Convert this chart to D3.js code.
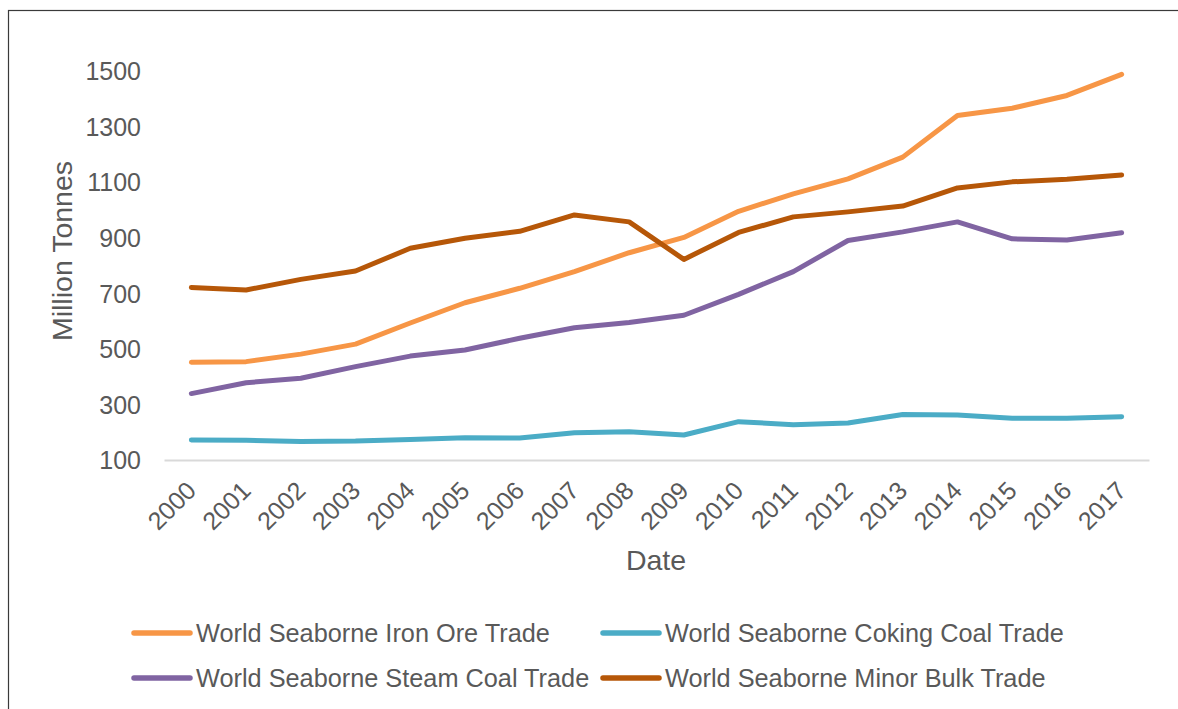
<!DOCTYPE html>
<html>
<head>
<meta charset="utf-8">
<script src="https://cdn.jsdelivr.net/npm/d3@7"></script>
<style>
  html, body { margin: 0; padding: 0; background: #fff; }
  svg { display: block; font-family: "Liberation Sans", Arial, sans-serif; }
</style>
</head>
<body>
<svg id="chart" width="1178" height="709"></svg>
<script>
// Years on the category axis
const years = ["2000","2001","2002","2003","2004","2005","2006","2007","2008",
  "2009","2010","2011","2012","2013","2014","2015","2016","2017"];

// Trade volumes, million tonnes
const ironOre    = [452, 454, 481, 517, 593, 666, 718, 778, 846, 901, 995, 1058, 1112, 1190, 1340, 1366, 1412, 1488];
const cokingCoal = [172, 171, 167, 168, 174, 180, 179, 198, 202, 190, 238, 227, 233, 264, 262, 250, 250, 256];
const steamCoal  = [339, 378, 394, 436, 474, 496, 538, 576, 595, 621, 696, 778, 890, 921, 957, 896, 892, 918];
const minorBulk  = [721, 712, 750, 780, 862, 898, 923, 982, 957, 822, 919, 975, 993, 1014, 1079, 1101, 1110, 1126];

const yTicks = [100, 300, 500, 700, 900, 1100, 1300, 1500];

const seriesNames  = ["World Seaborne Iron Ore Trade", "World Seaborne Coking Coal Trade",
                      "World Seaborne Steam Coal Trade", "World Seaborne Minor Bulk Trade"];
const seriesColors = ["#F79646", "#4BACC6", "#8064A2", "#B65708"];
const seriesValues = [ironOre, cokingCoal, steamCoal, minorBulk];

const svg = d3.select("#chart");
const textColor = "#595959";

// outer frame
svg.append("rect")
  .attr("x", 8.5).attr("y", 10.5)
  .attr("width", 1200).attr("height", 720)
  .attr("fill", "none").attr("stroke", "#3a3a3a").attr("stroke-width", 1.2);

const plot = { left: 164, right: 1149, top: 15, bottom: 460 };

const x = d3.scaleBand().domain(years).range([plot.left, plot.right]).padding(0);
const y = d3.scaleLinear().domain([100, 1700]).range([plot.bottom, plot.bottom - 1600 * (389 / 1400)]);

// y axis labels
const yAxis = svg.append("g")
  .attr("transform", `translate(${plot.left},0)`)
  .call(d3.axisLeft(y).tickValues(yTicks).tickSize(0).tickPadding(23).tickFormat(d3.format("d")));
yAxis.select(".domain").remove();
yAxis.selectAll("text")
  .attr("fill", textColor).style("font-size", "25px").attr("dy", "0.35em");

// x axis line and rotated labels
const xAxis = svg.append("g")
  .attr("transform", `translate(0,${plot.bottom})`)
  .call(d3.axisBottom(x).tickSize(0).tickPadding(0));
xAxis.select(".domain").attr("stroke", "#d9d9d9").attr("stroke-width", 2);
xAxis.selectAll("text")
  .attr("fill", textColor).style("font-size", "25px")
  .attr("text-anchor", "end")
  .attr("transform", "translate(0,26) rotate(-45)")
  .attr("dy", "0.35em").attr("y", 0);

// axis titles
svg.append("text")
  .attr("transform", "translate(72,251) rotate(-90)")
  .attr("text-anchor", "middle")
  .attr("fill", textColor).style("font-size", "28.5px")
  .text("Million Tonnes");

svg.append("text")
  .attr("x", 656).attr("y", 570)
  .attr("text-anchor", "middle")
  .attr("fill", textColor).style("font-size", "28.5px")
  .text("Date");

// series lines
const line = d3.line()
  .x((d, i) => x(years[i]) + x.bandwidth() / 2)
  .y(d => y(d));

seriesValues.forEach((vals, k) => {
  svg.append("path")
    .datum(vals)
    .attr("d", line)
    .attr("fill", "none")
    .attr("stroke", seriesColors[k])
    .attr("stroke-width", 5)
    .attr("stroke-linecap", "round")
    .attr("stroke-linejoin", "round");
});

// legend, two columns by two rows
const legendPos = [[134, 633], [603, 633], [134, 678], [603, 678]];
seriesNames.forEach((name, k) => {
  const [lx, ly] = legendPos[k];
  const g = svg.append("g").attr("transform", `translate(${lx},${ly})`);
  g.append("line")
    .attr("x1", 0).attr("x2", 56).attr("y1", 0).attr("y2", 0)
    .attr("stroke", seriesColors[k]).attr("stroke-width", 5.5).attr("stroke-linecap", "round");
  g.append("text")
    .attr("x", 62).attr("y", 0).attr("dy", "0.35em")
    .attr("fill", textColor).style("font-size", "25.3px")
    .text(name);
});
</script>
</body>
</html>
